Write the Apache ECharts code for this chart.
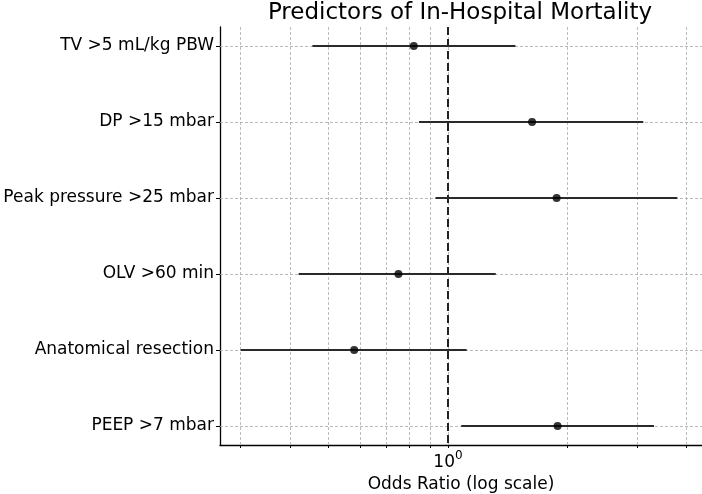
<!DOCTYPE html>
<html>
<head>
<meta charset="utf-8">
<title>Predictors of In-Hospital Mortality</title>
<script src="https://cdn.jsdelivr.net/npm/echarts@6/dist/echarts.min.js"></script>
<style>
  html, body { margin: 0; padding: 0; background: #fff; }
  #chart { width: 702px; height: 494px; }
</style>
</head>
<body>
<div id="chart"></div>
<script>
// 数据
const predictors = ['TV >5 mL/kg PBW', 'DP >15 mbar', 'Peak pressure >25 mbar', 'OLV >60 min', 'Anatomical resection', 'PEEP >7 mbar'];
const oddsRatio = [0.82, 1.63, 1.88, 0.75, 0.58, 1.89];
const ciLow = [0.455, 0.845, 0.93, 0.42, 0.30, 1.08];
const ciHigh = [1.48, 3.11, 3.79, 1.32, 1.115, 3.31];
const rows = [0, 1, 2, 3, 4, 5];
const gridTicks = [0.3, 0.4, 0.5, 0.6, 0.7, 0.8, 0.9, 1, 2, 3, 4];
const majorTicks = [1];

const font = 'DejaVu Sans';
const chart = echarts.init(document.getElementById('chart'), null, { renderer: 'canvas' });

// 网格虚线
const gridLines = gridTicks.map(v => ({ xAxis: v })).concat(rows.map(r => ({ yAxis: r })));

chart.setOption({
  animation: false,
  backgroundColor: '#fff',
  title: {
    text: 'Predictors of In-Hospital Mortality',
    left: 460,
    textAlign: 'center',
    top: 2,
    padding: 0,
    textStyle: { fontFamily: font, fontSize: 23, fontWeight: 'normal', color: '#000' }
  },
  grid: { left: 220, right: 0, top: 27, bottom: 49, containLabel: false, outerBoundsMode: 'none' },
  xAxis: {
    type: 'log',
    logBase: 10,
    min: 0.266,
    max: 4.374,
    name: 'Odds Ratio (log scale)',
    nameLocation: 'middle',
    nameGap: 25,
    nameTextStyle: { fontFamily: font, fontSize: 17, color: '#000' },
    axisLine: { show: true, onZero: false, lineStyle: { color: '#000', width: 1.3 } },
    axisTick: { show: true, customValues: gridTicks, length: 3, lineStyle: { color: '#000' } },
    axisLabel: {
      customValues: majorTicks,
      margin: 5,
      formatter: () => '{b|10}{s|0}',
      rich: {
        b: { fontFamily: font, fontSize: 17, color: '#000', verticalAlign: 'bottom' },
        s: { fontFamily: font, fontSize: 12, color: '#000', verticalAlign: 'top', padding: [0, 0, 9, 0] }
      }
    },
    splitLine: { show: false }
  },
  yAxis: {
    type: 'value',
    inverse: true,
    min: -0.25,
    max: 5.25,
    axisLine: { show: true, onZero: false, lineStyle: { color: '#000', width: 1.3 } },
    axisTick: { show: true, customValues: rows, length: 4, lineStyle: { color: '#000' } },
    axisLabel: {
      customValues: rows,
      margin: 6,
      fontFamily: font,
      fontSize: 17,
      color: '#000',
      formatter: v => predictors[Math.round(v)] || ''
    },
    splitLine: { show: false }
  },
  series: [
    {
      // 网格
      type: 'line',
      data: [],
      z: 1,
      silent: true,
      markLine: {
        z: 1,
        silent: true,
        symbol: 'none',
        label: { show: false },
        lineStyle: { color: '#aaaaaa', type: [3, 2], width: 0.8 },
        data: gridLines
      }
    },
    {
      // OR = 1 参考线
      type: 'line',
      data: [],
      z: 2,
      silent: true,
      markLine: {
        z: 2,
        silent: true,
        symbol: 'none',
        label: { show: false },
        lineStyle: { color: '#222', type: [8, 4], width: 2 },
        data: [{ xAxis: 1 }]
      }
    },
    {
      // 置信区间
      type: 'custom',
      z: 3,
      data: rows.map(i => [ciLow[i], ciHigh[i], i]),
      encode: { x: [0, 1], y: 2 },
      renderItem(params, api) {
        const y = api.value(2);
        const p1 = api.coord([api.value(0), y]);
        const p2 = api.coord([api.value(1), y]);
        return {
          type: 'line',
          shape: { x1: p1[0], y1: p1[1], x2: p2[0], y2: p2[1] },
          style: { stroke: '#2a2a2a', lineWidth: 2.2 }
        };
      }
    },
    {
      // 点估计
      type: 'scatter',
      z: 4,
      symbol: 'circle',
      symbolSize: 8,
      itemStyle: { color: '#000' },
      data: rows.map(i => [oddsRatio[i], i])
    }
  ]
});
</script>
</body>
</html>
